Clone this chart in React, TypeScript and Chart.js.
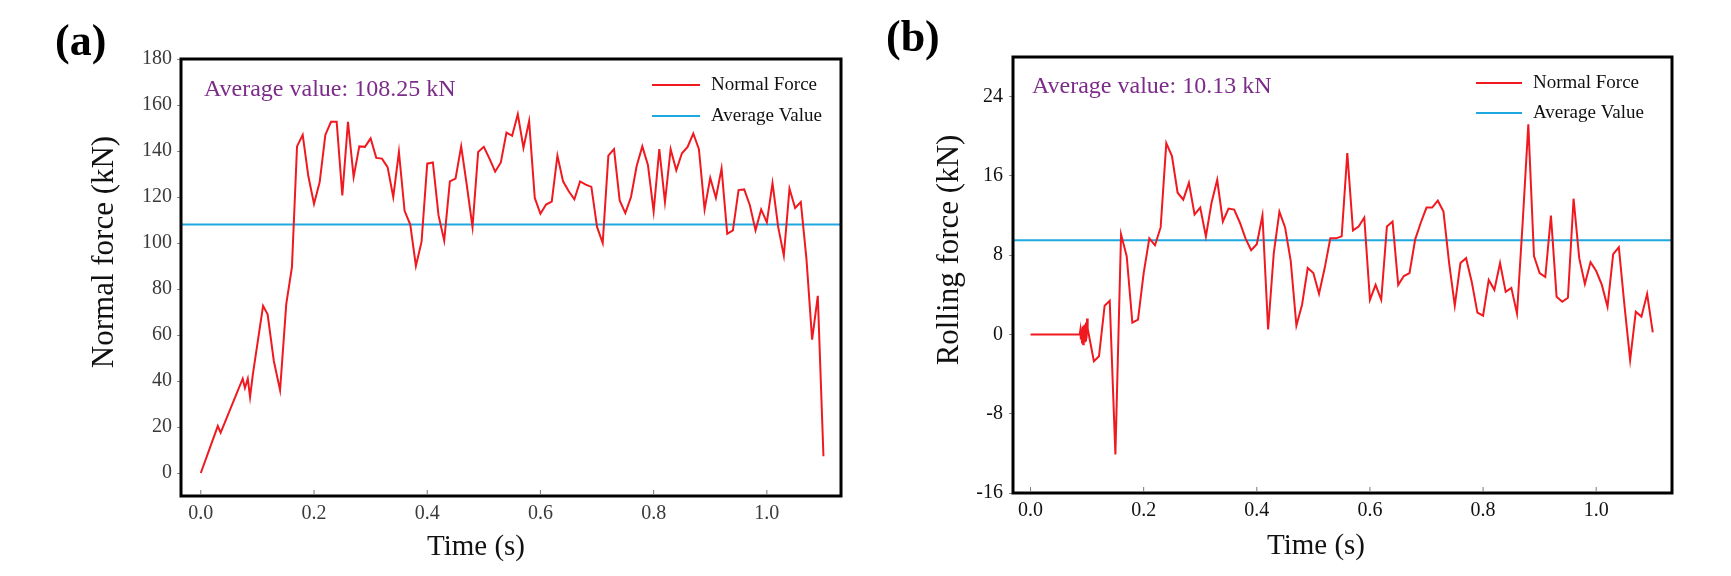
import React, { useEffect, useRef } from 'react';
import { Chart, registerables } from 'chart.js';

Chart.register(...registerables);

// ---------------- Data: panel (a) Normal force ----------------
const timeA = [
  0.0, 0.03, 0.035, 0.04, 0.074, 0.078, 0.083, 0.087, 0.092, 0.11, 0.118, 0.129, 0.14, 0.151, 0.161,
  0.17, 0.18, 0.19, 0.2, 0.21, 0.22, 0.23, 0.24, 0.25, 0.26, 0.27, 0.28, 0.29, 0.3, 0.31, 0.32, 0.33,
  0.34, 0.35, 0.36, 0.37, 0.38, 0.39, 0.4, 0.41, 0.42, 0.43, 0.44, 0.45, 0.46, 0.47, 0.48, 0.49, 0.5,
  0.51, 0.52, 0.53, 0.54, 0.55, 0.56, 0.57, 0.58, 0.59, 0.6, 0.61, 0.62, 0.63, 0.64, 0.65, 0.66, 0.67,
  0.68, 0.69, 0.7, 0.71, 0.72, 0.73, 0.74, 0.75, 0.76, 0.77, 0.78, 0.79, 0.8, 0.81, 0.82, 0.83, 0.84,
  0.85, 0.86, 0.87, 0.88, 0.89, 0.9, 0.91, 0.92, 0.93, 0.94, 0.95, 0.96, 0.97, 0.98, 0.99, 1.0, 1.01,
  1.02, 1.03, 1.04, 1.05, 1.06, 1.07, 1.08, 1.09, 1.1,
];
const forceA = [
  0, 20.4, 17.5, 20.5, 41, 37, 41, 33, 43, 72.7, 69, 48.7, 36, 73.5, 89.5,
  142, 147, 129, 117, 126.5, 147, 152.7, 152.7, 120.7, 152.7, 128.7, 142, 141.8, 145.5, 137, 136.7, 133,
  120, 139.6, 114, 108, 90, 100.6, 134.5, 135, 112, 101, 126.8, 128, 142, 125, 107, 139.6, 141.8,
  136.7, 131, 135, 148, 146.6, 156, 141.4, 153, 119.6, 112.7, 116.7, 118, 138, 126.8, 122.5, 119, 126.8,
  125.4, 124.4, 107, 100, 138, 140.8, 118.5, 113, 120, 133.5, 142, 133.8, 113.7, 140.8, 117.8, 140.8, 131.6,
  139, 141.8, 147.6, 140.8, 114.6, 128.3, 119.6, 132.4, 104, 105.5, 123, 123.3, 116.4, 105.5, 114.6, 109, 126,
  107, 94.5, 123.6, 115.2, 117.8, 93, 58, 77, 7.3,
];
const averageA = 108;

// ---------------- Data: panel (b) Rolling force ----------------
const timeB = [
  0.0, 0.02, 0.04, 0.06, 0.08, 0.087, 0.088, 0.089, 0.090, 0.091, 0.092, 0.093, 0.094, 0.095, 0.096,
  0.097, 0.098, 0.099, 0.1, 0.101, 0.103, 0.112, 0.121, 0.131,
  0.14, 0.15, 0.16, 0.17, 0.18, 0.19, 0.2, 0.21, 0.22, 0.23, 0.24, 0.25, 0.26, 0.27, 0.28, 0.29, 0.3,
  0.31, 0.32, 0.33, 0.34, 0.35, 0.36, 0.37, 0.38, 0.39, 0.4, 0.41, 0.42, 0.43, 0.44, 0.45, 0.46, 0.47,
  0.48, 0.49, 0.5, 0.51, 0.52, 0.53, 0.54, 0.55, 0.56, 0.57, 0.58, 0.59, 0.6, 0.61, 0.62, 0.63, 0.64,
  0.65, 0.66, 0.67, 0.68, 0.69, 0.7, 0.71, 0.72, 0.73, 0.74, 0.75, 0.76, 0.77, 0.78, 0.79, 0.8, 0.81,
  0.82, 0.83, 0.84, 0.85, 0.86, 0.87, 0.88, 0.89, 0.9, 0.91, 0.92, 0.93, 0.94, 0.95, 0.96, 0.97, 0.98,
  0.99, 1.0, 1.01, 1.02, 1.03, 1.04, 1.05, 1.06, 1.07, 1.08, 1.09, 1.1,
];
const forceB = [
  0, 0, 0, 0, 0, 0, 0.4, -0.5, 0.6, -0.8, 0.8, -1.0, 0.9, -0.7, 1.0,
  -0.6, 1.2, -0.4, 1.6, 0.6, 0.0, -2.7, -2.2, 2.9,
  3.4, -12.1, 10.1, 7.9, 1.2, 1.5, 6.2, 9.7, 9.0, 10.8, 19.3, 18.0, 14.3, 13.6, 15.3, 12.1, 12.8,
  9.9, 13.3, 15.6, 11.4, 12.7, 12.6, 11.3, 9.7, 8.5, 9.1, 12.0, 0.5, 8.2, 12.4, 10.8, 7.4, 0.9,
  3.0, 6.7, 6.2, 4.1, 6.7, 9.7, 9.7, 9.9, 18.3, 10.5, 10.9, 11.8, 3.5, 5.0, 3.5, 10.9, 11.4,
  5.0, 5.9, 6.2, 9.6, 11.3, 12.8, 12.8, 13.5, 12.4, 7.2, 2.9, 7.2, 7.7, 5.3, 2.2, 1.9, 5.5,
  4.5, 7.2, 4.3, 4.7, 2.1, 11.3, 21.2, 7.9, 6.2, 5.8, 12.0, 3.8, 3.3, 3.7, 13.7, 7.7, 5.1,
  7.3, 6.4, 5.0, 2.8, 8.1, 8.8, 2.9, -2.6, 2.3, 1.8, 4.1, 0.2,
];
const averageB = 9.5;

// ---------------- Labels ----------------
const panelLabels = ['(a)', '(b)'];
const yTitles = ['Normal force (kN)', 'Rolling force (kN)'];
const xTitle = 'Time (s)';
const averageTexts = ['Average value: 108.25 kN', 'Average value: 10.13 kN'];
const legendLabels = ['Normal Force', 'Average Value'];

const X_MIN_A = -0.035;
const X_MAX_A = 1.131;
const X_MIN_B = -0.031;
const X_MAX_B = 1.134;

const RED = '#f0191f';
const BLUE = '#1ea8e0';
const PURPLE = '#7b2b88';
const SERIF = '"Liberation Serif", "Times New Roman", serif';

type Layout = {
  canvasLeft: number;
  canvasWidth: number;
  padTop: number;
  padRight: number;
  yAxisWidth: number;
  xAxisHeight: number;
  yTickPad: number;
  xTickPad: number;
  tickColor: string;
  label: [number, number];
  yTitle: [number, number];
  xTitle: [number, number];
  annot: [number, number];
  legLine: [number, number];
  legText: number;
  legY: [number, number];
};

const layoutA: Layout = {
  canvasLeft: 0,
  canvasWidth: 866,
  padTop: 59,
  padRight: 25,
  yAxisWidth: 181,
  xAxisHeight: 80,
  yTickPad: 5,
  xTickPad: 6,
  tickColor: '#3a3a3a',
  label: [55, 44],
  yTitle: [105, 252],
  xTitle: [476, 547],
  annot: [204, 90],
  legLine: [652, 700],
  legText: 711,
  legY: [85, 116],
};

const layoutB: Layout = {
  canvasLeft: 866,
  canvasWidth: 865,
  padTop: 57,
  padRight: 59,
  yAxisWidth: 147,
  xAxisHeight: 83,
  yTickPad: 6,
  xTickPad: 6,
  tickColor: '#111111',
  label: [20, 40],
  yTitle: [84, 250],
  xTitle: [450, 546],
  annot: [166, 87],
  legLine: [610, 656],
  legText: 667,
  legY: [83, 113],
};

type PanelSpec = {
  idx: number;
  times: number[];
  values: number[];
  avg: number;
  xMin: number;
  xMax: number;
  yMin: number;
  yMax: number;
  yStep: number;
  layout: Layout;
};

const panels: PanelSpec[] = [
  { idx: 0, times: timeA, values: forceA, avg: averageA, xMin: X_MIN_A, xMax: X_MAX_A, yMin: -10, yMax: 180, yStep: 20, layout: layoutA },
  { idx: 1, times: timeB, values: forceB, avg: averageB, xMin: X_MIN_B, xMax: X_MAX_B, yMin: -16, yMax: 28, yStep: 8, layout: layoutB },
];

function makeDecor(p: PanelSpec) {
  const L = p.layout;
  return {
    id: 'decor' + p.idx,
    afterDatasetsDraw(chart: any) {
      const { ctx, chartArea: ca } = chart;
      ctx.save();
      // frame
      ctx.strokeStyle = '#000';
      ctx.lineWidth = 3;
      ctx.strokeRect(ca.left, ca.top, ca.right - ca.left, ca.bottom - ca.top);
      // inner x tick marks
      const xs = chart.scales.x;
      ctx.strokeStyle = '#777';
      ctx.lineWidth = 1;
      xs.ticks.forEach((t: any) => {
        const px = xs.getPixelForValue(t.value);
        ctx.beginPath();
        ctx.moveTo(px, ca.bottom - 1.5);
        ctx.lineTo(px, ca.bottom - 6);
        ctx.stroke();
      });
      // panel label
      ctx.fillStyle = '#000';
      ctx.textBaseline = 'middle';
      ctx.textAlign = 'left';
      ctx.font = `bold 44px ${SERIF}`;
      ctx.fillText(panelLabels[p.idx], L.label[0], L.label[1]);
      // y title
      ctx.save();
      ctx.translate(L.yTitle[0], L.yTitle[1]);
      ctx.rotate(-Math.PI / 2);
      ctx.textAlign = 'center';
      ctx.font = `31px ${SERIF}`;
      ctx.fillStyle = '#111';
      ctx.fillText(yTitles[p.idx], 0, 0);
      ctx.restore();
      // x title
      ctx.textAlign = 'center';
      ctx.font = `29px ${SERIF}`;
      ctx.fillStyle = '#111';
      ctx.fillText(xTitle, L.xTitle[0], L.xTitle[1]);
      // average annotation
      ctx.textAlign = 'left';
      ctx.font = `24px ${SERIF}`;
      ctx.fillStyle = PURPLE;
      ctx.fillText(averageTexts[p.idx], L.annot[0], L.annot[1]);
      // legend
      const colors = [RED, BLUE];
      for (let i = 0; i < 2; i++) {
        ctx.strokeStyle = colors[i];
        ctx.lineWidth = 2;
        ctx.beginPath();
        ctx.moveTo(L.legLine[0], L.legY[i]);
        ctx.lineTo(L.legLine[1], L.legY[i]);
        ctx.stroke();
        ctx.fillStyle = '#111';
        ctx.font = `19px ${SERIF}`;
        ctx.fillText(legendLabels[i], L.legText, L.legY[i]);
      }
      ctx.restore();
    },
  };
}

function Panel({ p }: { p: PanelSpec }) {
  const ref = useRef<HTMLCanvasElement | null>(null);
  useEffect(() => {
    if (!ref.current) return;
    const L = p.layout;
    const chart = new Chart(ref.current, {
      type: 'line',
      data: {
        datasets: [
          {
            label: legendLabels[0],
            data: p.times.map((t, i) => ({ x: t, y: p.values[i] })),
            borderColor: RED,
            borderWidth: 2,
            pointRadius: 0,
            tension: 0,
            fill: false,
          },
          {
            label: legendLabels[1],
            data: [
              { x: p.xMin, y: p.avg },
              { x: p.xMax, y: p.avg },
            ],
            borderColor: BLUE,
            borderWidth: 2,
            pointRadius: 0,
            fill: false,
          },
        ],
      },
      options: {
        animation: false,
        responsive: false,
        devicePixelRatio: 1,
        events: [],
        layout: { padding: { top: L.padTop, right: L.padRight, left: 0, bottom: 0 } },
        plugins: { legend: { display: false }, tooltip: { enabled: false }, title: { display: false } },
        scales: {
          x: {
            type: 'linear',
            min: p.xMin,
            max: p.xMax,
            border: { display: false },
            grid: { display: false, drawTicks: false },
            ticks: {
              stepSize: 0.2,
              includeBounds: false,
              padding: L.xTickPad,
              color: L.tickColor,
              font: { family: SERIF, size: 20 },
              maxRotation: 0,
              callback: (v: any) => Number(v).toFixed(1),
            },
            afterFit: (s: any) => {
              s.height = L.xAxisHeight;
            },
          },
          y: {
            type: 'linear',
            min: p.yMin,
            max: p.yMax,
            border: { display: false },
            grid: { display: true, drawOnChartArea: false, drawTicks: true, tickLength: 4, color: '#888' },
            ticks: {
              stepSize: p.yStep,
              includeBounds: false,
              padding: L.yTickPad,
              color: L.tickColor,
              font: { family: SERIF, size: 20 },
            },
            afterFit: (s: any) => {
              s.width = L.yAxisWidth;
            },
          },
        },
      },
      plugins: [makeDecor(p)],
    } as any);
    return () => chart.destroy();
  }, [p]);
  return (
    <canvas
      ref={ref}
      width={p.layout.canvasWidth}
      height={576}
      style={{ position: 'absolute', left: p.layout.canvasLeft, top: 0 }}
    />
  );
}

export default function App() {
  return (
    <div style={{ position: 'absolute', left: 0, top: 0, width: 1731, height: 576, background: '#fff', overflow: 'hidden' }}>
      {panels.map((p) => (
        <Panel key={p.idx} p={p} />
      ))}
    </div>
  );
}
